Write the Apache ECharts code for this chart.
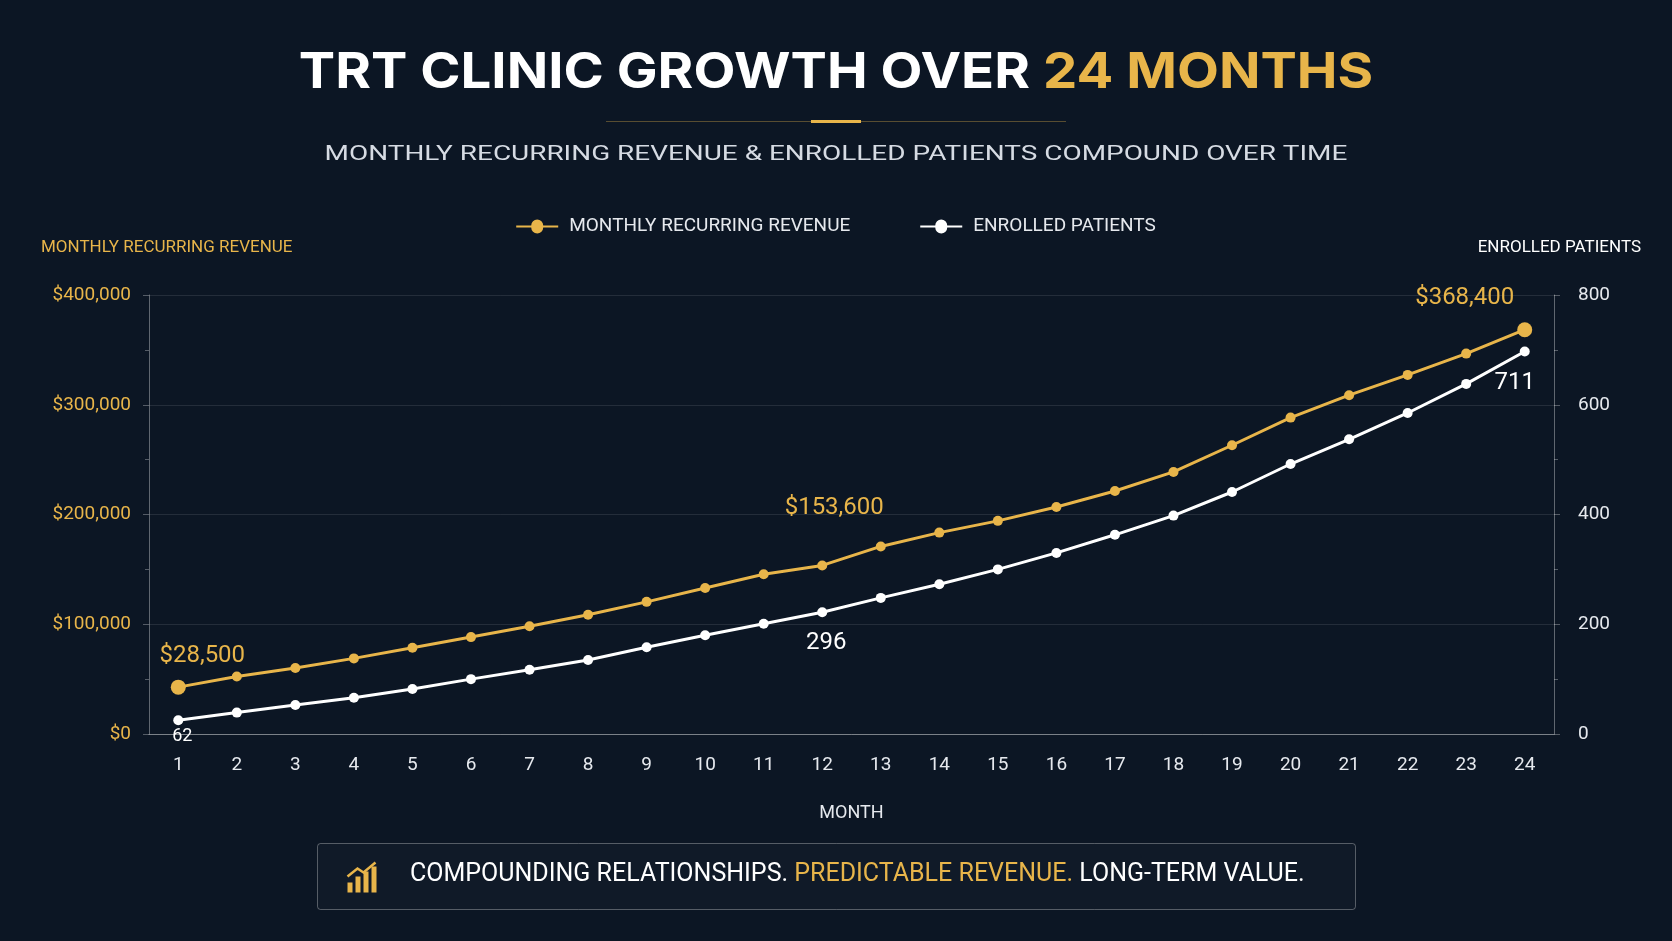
<!DOCTYPE html>
<html>
<head>
<meta charset="utf-8">
<script src="https://cdn.jsdelivr.net/npm/echarts@6/dist/echarts.min.js"></script>
<style>html,body{margin:0;padding:0;background:#0c1624;}#main{width:1672px;height:941px;}</style>
</head>
<body>
<div id="main"></div>
<script>
var months = ['1','2','3','4','5','6','7','8','9','10','11','12','13','14','15','16','17','18','19','20','21','22','23','24'];
var revenue = [42700,52400,60200,68900,78600,88300,98100,108700,120400,133000,145600,153600,170900,183500,194200,206800,221400,238800,263100,288300,308700,327200,346600,368400];
var patients = [25,39,53,66,82,100,117,135,158,180,201,222,248,273,300,330,363,398,441,492,537,585,638,697];
var revenueLabels = {0:'$28,500', 11:'$153,600', 23:'$368,400'};
var patientLabels = {0:'62', 11:'296', 23:'711'};

var gold = '#e8b54a';
var font = 'Roboto, "Noto Sans", sans-serif';
var myChart = echarts.init(document.getElementById('main'));

function revData() {
  return revenue.map(function (v, i) {
    var d = {value: v};
    if (revenueLabels[i]) {
      d.label = {show: true, formatter: revenueLabels[i], color: gold, fontSize: 24, fontFamily: '"Liberation Sans Narrow", Roboto, sans-serif',
        position: 'top', distance: i === 11 ? 40 : 12, offset: i === 0 ? [24, 0] : (i === 23 ? [-60, 0] : [12, 0])};
    }
    if (i === 0 || i === 23) d.symbolSize = 15;
    return d;
  });
}
function patData() {
  return patients.map(function (v, i) {
    var d = {value: v};
    if (patientLabels[i]) {
      d.label = {show: true, formatter: patientLabels[i], color: '#fff', fontSize: i === 0 ? 18 : 24,
        fontFamily: '"Liberation Sans Narrow", Roboto, sans-serif',
        position: 'bottom', distance: i === 0 ? 2 : 14, offset: i === 23 ? [-10, 0] : [4, 0]};
    }
    return d;
  });
}

var option = {
  backgroundColor: '#0c1624',
  textStyle: {fontFamily: font},
  graphic: [
    {type: 'text', x: 836, y: 48, scaleX: 1.09, style: {text: 'TRT CLINIC GROWTH OVER {g|24 MONTHS}', textAlign: 'center', fill: '#fff', font: 'bold 50px Inter, Roboto, sans-serif', rich: {g: {fill: gold, font: 'bold 50px Inter, Roboto, sans-serif'}}}},
    {type: 'rect', left: 'center', top: 121, shape: {width: 460, height: 1}, style: {fill: 'rgba(232,181,74,0.35)'}},
    {type: 'rect', left: 'center', top: 120, shape: {width: 50, height: 3}, style: {fill: gold}},
    {type: 'text', x: 836, y: 144, scaleX: 1.33, style: {text: 'MONTHLY RECURRING REVENUE & ENROLLED PATIENTS COMPOUND OVER TIME', textAlign: 'center', fill: '#d6dbe3', font: '21px Roboto, sans-serif'}},
    {type: 'text', left: 41, top: 239, style: {text: 'MONTHLY RECURRING REVENUE', fill: gold, font: '17px Roboto, sans-serif'}},
    {type: 'text', right: 31, top: 239, style: {text: 'ENROLLED PATIENTS', fill: '#fff', font: '17px Roboto, sans-serif', textAlign: 'right'}},
    {type: 'rect', left: 317, top: 843, shape: {width: 1038, height: 66, r: 3}, style: {fill: 'rgba(255,255,255,0.02)', stroke: 'rgba(255,255,255,0.3)', lineWidth: 1}},
    {type: 'group', left: 345, top: 860, children: [
      {type: 'rect', shape: {x: 0, y: 20, width: 5, height: 10}, style: {fill: gold}},
      {type: 'rect', shape: {x: 8, y: 14, width: 5, height: 16}, style: {fill: gold}},
      {type: 'rect', shape: {x: 16, y: 9, width: 5, height: 21}, style: {fill: gold}},
      {type: 'rect', shape: {x: 24, y: 4, width: 5, height: 26}, style: {fill: gold}},
      {type: 'polyline', shape: {points: [[0, 14], [10, 6], [16, 10], [28, 0]]}, style: {stroke: gold, lineWidth: 2.5, fill: null}}
    ]},
    {type: 'text', left: 410, top: 862, style: {text: 'COMPOUNDING RELATIONSHIPS. {g|PREDICTABLE REVENUE.} LONG-TERM VALUE.', fill: '#fff', font: '25px Roboto, sans-serif', rich: {g: {fill: gold, font: '25px Roboto, sans-serif'}}}}
  ],
  legend: {
    top: 212, left: 'center', itemGap: 70, itemWidth: 42, itemHeight: 14,
    textStyle: {color: '#e6e9ee', fontSize: 19, fontFamily: font, padding: [0, 0, 0, 6]},
    data: [
      {name: 'MONTHLY RECURRING REVENUE', icon: 'path://M0,6 L15,6 A6,6 0 1 1 27,6 L42,6 L42,8 L27,8 A6,6 0 1 1 15,8 L0,8 Z'},
      {name: 'ENROLLED PATIENTS', icon: 'path://M0,6 L15,6 A6,6 0 1 1 27,6 L42,6 L42,8 L27,8 A6,6 0 1 1 15,8 L0,8 Z'}
    ]
  },
  grid: {left: 149, right: 118, top: 295, bottom: 207},
  xAxis: {
    type: 'category', data: months, boundaryGap: true,
    name: 'MONTH', nameLocation: 'middle', nameGap: 70,
    nameTextStyle: {color: '#e6e9ee', fontSize: 18},
    axisLine: {lineStyle: {color: 'rgba(255,255,255,0.4)'}},
    axisTick: {show: false},
    axisLabel: {color: '#e6e9ee', fontSize: 19, margin: 22}
  },
  yAxis: [
    {type: 'value', min: 0, max: 400000, interval: 100000,
      axisLine: {show: true, lineStyle: {color: 'rgba(255,255,255,0.35)'}},
      axisTick: {show: true, length: 6, lineStyle: {color: 'rgba(255,255,255,0.3)'}},
      minorTick: {show: true, splitNumber: 2, length: 4, lineStyle: {color: 'rgba(255,255,255,0.3)'}},
      splitLine: {lineStyle: {color: 'rgba(255,255,255,0.1)'}},
      axisLabel: {color: gold, fontSize: 19, margin: 18, formatter: function (v) { return '$' + v.toLocaleString('en-US'); }}},
    {type: 'value', min: 0, max: 800, interval: 200,
      axisLine: {show: true, lineStyle: {color: 'rgba(255,255,255,0.35)'}},
      axisTick: {show: true, length: 6, lineStyle: {color: 'rgba(255,255,255,0.3)'}},
      minorTick: {show: true, splitNumber: 2, length: 4, lineStyle: {color: 'rgba(255,255,255,0.3)'}},
      splitLine: {show: false},
      axisLabel: {color: '#e6e9ee', fontSize: 19, margin: 24}}
  ],
  series: [
    {name: 'MONTHLY RECURRING REVENUE', type: 'line', yAxisIndex: 0, data: revData(),
      symbol: 'circle', symbolSize: 10, color: gold,
      lineStyle: {width: 3, color: gold}, itemStyle: {color: gold}},
    {name: 'ENROLLED PATIENTS', type: 'line', yAxisIndex: 1, data: patData(),
      symbol: 'circle', symbolSize: 10, color: '#fff',
      lineStyle: {width: 3, color: '#fff'}, itemStyle: {color: '#fff'}}
  ]
};
myChart.setOption(option);
</script>
</body>
</html>
